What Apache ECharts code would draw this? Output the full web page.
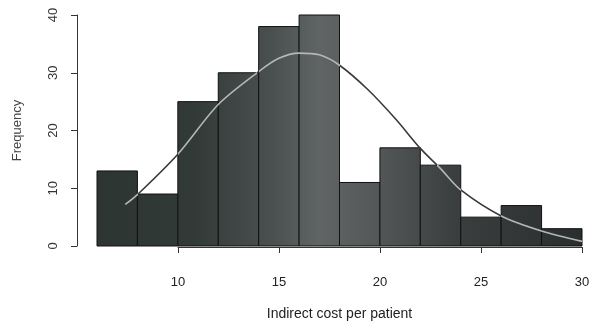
<!DOCTYPE html>
<html>
<head>
<meta charset="utf-8">
<script src="https://cdn.jsdelivr.net/npm/echarts@6/dist/echarts.min.js"></script>
<style>
  html, body { margin: 0; padding: 0; background: #ffffff; }
  #chart { width: 593px; height: 326px; }
</style>
</head>
<body>
<div id="chart"></div>
<script>
// Histogram of indirect cost per patient, bins of width 2
const binEdges = [6, 8, 10, 12, 14, 16, 18, 20, 22, 24, 26, 28, 30];
const frequencies = [13, 9, 25, 30, 38, 40, 11, 17, 14, 5, 7, 3];

// Fitted normal density curve, scaled to counts
const curveX = [7.4, 8, 10, 12, 14, 15, 16, 17, 18, 19.4, 20.8, 22, 23, 24, 26, 28, 30];
const curveY = [7.2, 8.9, 15.9, 24.5, 30.2, 32.5, 33.4, 33.1, 31.3, 27.1, 21.9, 16.9, 13.4, 9.7, 5.2, 2.6, 0.8];

// Axis ticks
const xTicks = [10, 15, 20, 25, 30];
const yTicks = [0, 10, 20, 30, 40];

const binData = frequencies.map((f, i) => [binEdges[i], binEdges[i + 1], f]);
const curveData = curveX.map((x, i) => [x, curveY[i]]);

function barHeightAt(x) {
  for (let i = 0; i < frequencies.length; i++) {
    if (x >= binEdges[i] && x < binEdges[i + 1]) return frequencies[i];
  }
  return 0;
}
function curveAt(x) {
  for (let i = 0; i < curveX.length - 1; i++) {
    if (x >= curveX[i] && x <= curveX[i + 1]) {
      const t = (x - curveX[i]) / (curveX[i + 1] - curveX[i]);
      return curveY[i] + t * (curveY[i + 1] - curveY[i]);
    }
  }
  return 0;
}

// The curve reads light where it crosses the dark bars and dark over the white paper
const LIGHT = '#b4b6b6', DARK = '#3a3a3a';
const pieces = [];
(function () {
  const start = curveX[0], end = curveX[curveX.length - 1];
  let segStart = start;
  let above = curveAt(start) > barHeightAt(start);
  for (let x = start; x <= end + 1e-9; x += 0.01) {
    const a = curveAt(x) > barHeightAt(x);
    if (a !== above) {
      pieces.push({ gte: segStart, lt: x, color: above ? DARK : LIGHT });
      segStart = x;
      above = a;
    }
  }
  pieces.push({ gte: segStart, lte: end + 1, color: above ? DARK : LIGHT });
  pieces[0].gte = start - 1;
})();

const barFill = {
  type: 'linear', x: 97, y: 0, x2: 582, y2: 0, global: true,
  colorStops: [
    { offset: 0.0, color: '#2c3532' },
    { offset: 0.2, color: '#323a38' },
    { offset: 0.36, color: '#4a5050' },
    { offset: 0.46, color: '#606464' },
    { offset: 0.58, color: '#535757' },
    { offset: 0.74, color: '#3a3e3e' },
    { offset: 1.0, color: '#2a2e2e' }
  ]
};

const font = 'Liberation Sans, Arial, sans-serif';

const chart = echarts.init(document.getElementById('chart'), null, { renderer: 'canvas' });
chart.setOption({
  animation: false,
  backgroundColor: '#ffffff',
  grid: [
    { left: 97, right: 11, top: 15, bottom: 79 },
    { left: 178, right: 11, top: 15, bottom: 79 }
  ],
  xAxis: [
    {
      gridIndex: 0, type: 'value', min: binEdges[0], max: binEdges[binEdges.length - 1],
      name: 'Indirect cost per patient', nameLocation: 'middle', nameGap: 61,
      nameTextStyle: { fontFamily: font, fontSize: 14, color: '#222' },
      axisLine: { show: false }, axisTick: { show: false }, axisLabel: { show: false },
      splitLine: { show: false }
    },
    {
      gridIndex: 1, type: 'value', min: xTicks[0], max: xTicks[xTicks.length - 1], interval: 5,
      offset: 11,
      axisLine: { show: true, lineStyle: { color: '#333', width: 1 } },
      axisTick: { show: true, inside: false, length: 6, lineStyle: { color: '#333' } },
      axisLabel: { show: true, margin: 18, fontFamily: font, fontSize: 13, color: '#222' },
      splitLine: { show: false }
    }
  ],
  yAxis: [
    {
      gridIndex: 0, type: 'value', min: yTicks[0], max: yTicks[yTicks.length - 1], interval: 10,
      offset: 20,
      name: 'Frequency', nameLocation: 'middle', nameGap: 53, nameRotate: 90,
      nameTextStyle: { fontFamily: font, fontSize: 13, color: '#444' },
      axisLine: { show: true, lineStyle: { color: '#333', width: 1 } },
      axisTick: { show: true, inside: false, length: 6, lineStyle: { color: '#333' } },
      axisLabel: { show: true, rotate: 90, margin: 17, fontFamily: font, fontSize: 13, color: '#333' },
      splitLine: { show: false }
    },
    {
      gridIndex: 1, type: 'value', min: 0, max: 40, show: false
    }
  ],
  visualMap: {
    type: 'piecewise', show: false, dimension: 0, seriesIndex: 1, pieces: pieces
  },
  series: [
    {
      type: 'custom',
      xAxisIndex: 0, yAxisIndex: 0,
      data: binData,
      encode: { x: [0, 1], y: 2 },
      renderItem: function (params, api) {
        const p0 = api.coord([api.value(0), api.value(2)]);
        const p1 = api.coord([api.value(1), 0]);
        return {
          type: 'rect',
          shape: { x: p0[0], y: p0[1], width: p1[0] - p0[0], height: p1[1] - p0[1] },
          style: { fill: barFill, stroke: '#111', lineWidth: 1 }
        };
      }
    },
    {
      type: 'line',
      xAxisIndex: 0, yAxisIndex: 0,
      data: curveData,
      smooth: 0.3,
      showSymbol: false,
      lineStyle: { width: 1.6 },
      z: 5
    }
  ]
});
</script>
</body>
</html>
